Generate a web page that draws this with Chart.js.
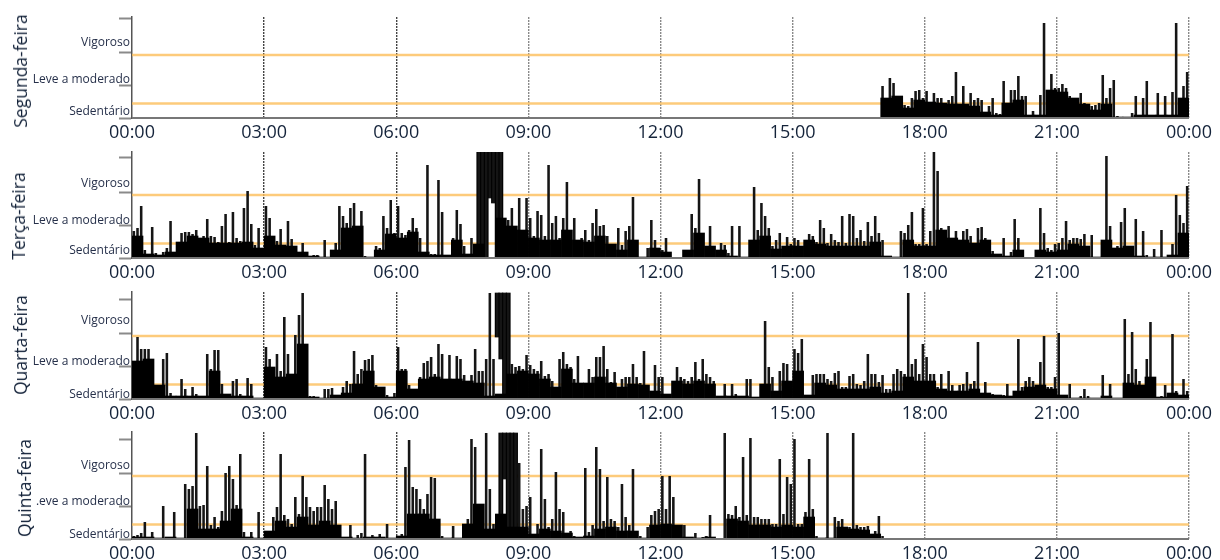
<!DOCTYPE html>
<html>
<head>
<meta charset="utf-8">
<title>Atividade diária</title>
<script src="https://cdn.jsdelivr.net/npm/chart.js@4"></script>
<style>
  html, body { margin: 0; padding: 0; background: #fff; }
  #page { position: relative; width: 1220px; height: 560px; overflow: hidden; }
  #page canvas { position: absolute; left: 0; }
  .day {
    position: absolute; white-space: nowrap; color: #14233a;
    font: 17.5px "Open Sans", sans-serif;
    transform: translate(-50%, -50%) rotate(-90deg);
  }
</style>
</head>
<body>
<div id="page"></div>
<script>
"use strict"

// peaks: one value every 5 minutes, one row per hour, [low, high] where the trace floats
// mass: the solid black part under the peaks, one value every 15 minutes
const segundaStart = 17;
const segundaValues = [
    32, 20, 40, 35, 22, 20, 13, 12, 20, 27, 28, 20,
    27, 16, 25, 20, 20, 15, 18, 22, 46, 14, 32, 14,
    25, 18, 20, 18, 0, 12, 20, 5, 4, 37, 3, 28,
    28, 42, 22, 22, 2, 7, 2, 23, 95, 25, 44, 30,
    30, 34, 30, 22, 20, 18, 25, 15, 2, 12, 13, 15,
    43, 20, 30, 38, 2, 1, 1, 1, 5, 22, 3, 20,
    37, 3, 2, 25, 3, 22, 2, 26, 95, 12, 32, 46
];
const segundaMass = [
    20, 22, 10, 18,
    16, 15, 14, 14,
    12, 6, 3, 15,
    18, 3, 3, 28,
    26, 20, 14, 8,
    14, 1, 1, 3,
    3, 3, 3, 20
];

const tercaStart = 0;
const tercaValues = [
    27, 30, 52, 8, 3, 31, 5, 1, 6, 10, 37, 0,
    10, 25, 26, 26, 24, 28, 20, 22, 39, 22, 21, 16,
    32, 44, 16, 46, 20, 17, 50, 67, 34, 13, 30, 10,
    52, 40, 17, 17, 29, 12, 37, 19, 5, 5, 15, 6,
    2, 3, 3, 1, 18, 0, 0, 15, 52, 42, 35, 50,
    55, 30, 47, 2, 1, 1, 12, 10, 42, 30, 58, 25,
    52, 25, 23, 28, 40, 30, 20, 3, 93, 4, 4, 78,
    46, 3, 2, 20, 48, 34, 12, 4, 20, 6, 106, 106,
    106, [60, 106], [55, 106], 106, 106, 40, 38, 50, 30, 60, 25, 60,
    40, 22, 47, 43, 22, 93, 35, 42, 20, 40, 76, 20,
    40, 18, 20, 28, 18, 35, 49, 32, 33, 22, 2, 1,
    30, 13, 27, 32, 61, 2, 1, 1, 10, 38, 18, 10,
    8, 20, 0, 0, 0, 0, 0, 0, 44, 30, 79, 5,
    10, 32, 3, 1, 15, 13, 5, 32, 1, 32, 0, 0,
    1, 71, 28, 55, 42, 30, 12, 18, 25, 12, 21, 14,
    20, 18, 5, 10, 24, 22, 16, 38, 30, 15, 24, 18,
    16, 42, 15, 44, 42, 20, 28, 17, 36, 22, 42, 25,
    18, 2, 2, 1, 0, 27, 25, 33, 46, 14, 14, 50,
    14, 27, 106, 87, 30, 22, 32, 20, 27, 10, 27, 29,
    22, 3, 30, 31, 20, 15, 7, 4, 3, 20, 2, 6,
    39, 20, 1, 0, 0, 1, 1, 50, 25, 10, 8, 14,
    15, 20, 37, 18, 20, 20, 19, 24, 3, 23, 1, 0,
    3, 102, 32, 10, 12, 36, 50, 5, 2, 39, 2, 27,
    3, 1, 9, 1, 28, 1, 2, 14, 63, 43, 35, 72
];
const tercaMass = [
    22, 4, 3, 6,
    16, 22, 20, 15,
    15, 15, 16, 10,
    22, 13, 12, 6,
    2, 1, 8, 30,
    32, 1, 8, 24,
    20, 26, 6, 3,
    3, 18, 4, 14,
    0, 40, 32, 28,
    20, 18, 18, 28,
    18, 16, 22, 14,
    8, 18, 1, 10,
    6, 0, 8, 25,
    12, 8, 2, 1,
    18, 22, 9, 12,
    12, 18, 14, 12,
    12, 12, 12, 16,
    2, 1, 18, 12,
    12, 28, 20, 18,
    15, 18, 4, 2,
    8, 0, 8, 6,
    8, 14, 12, 1,
    18, 10, 12, 2,
    1, 1, 3, 25
];

const quartaStart = 0;
const quartaValues = [
    32, 62, 50, 50, 50, 40, 14, 14, 40, 46, 6, 2,
    1, 20, 10, 1, 12, 5, 3, 3, 45, 30, 49, 49,
    15, 3, 2, 18, 20, 5, 1, 21, 15, 1, 0, 0,
    52, 40, 30, 45, 28, 82, 45, 25, 64, 84, 106, 4,
    3, 3, 1, 1, 10, 10, 11, 1, 2, 12, 18, 15,
    48, 25, 30, 39, 40, 44, 14, 12, 5, 4, 1, 6,
    52, 30, 30, 14, 10, 8, 22, 36, 38, 42, 25, 55,
    45, 20, 44, 18, 43, 40, 24, 15, 24, 50, 28, 28,
    40, 106, 40, [62, 106], [40, 106], 106, 106, 35, 32, 33, 30, 44,
    34, 30, 28, 38, 23, 25, 18, 12, 40, 47, 35, 32,
    20, 43, 15, 14, 30, 22, 42, 42, 53, 30, 17, 27,
    10, 20, 22, 22, 35, 22, 16, 48, 8, 3, 34, 22,
    22, 1, 0, 0, 32, 22, 20, 18, 22, 37, 20, 40,
    25, 22, 18, 1, 1, 15, 1, 15, 5, 1, 3, 20,
    20, 0, 0, 0, 78, 32, 22, 5, 28, 36, 35, 15,
    50, 46, 60, 1, 1, 24, 25, 25, 25, 20, 18, 26,
    28, 12, 12, 23, 25, 15, 14, 18, 45, 25, 25, 17,
    24, 10, 10, 25, 30, 28, 25, 106, 35, 40, 25, 55,
    42, 25, 25, 12, 25, 8, 28, 14, 8, 14, 15, 27,
    15, 18, 57, 2, 17, 3, 5, 4, 4, 4, 15, 0,
    0, 60, 12, 18, 22, 18, 10, 37, 63, 12, 12, 22,
    66, 2, 1, 15, 1, 1, 3, 10, 3, 0, 0, 0,
    24, 2, 15, 1, 0, 0, 80, 25, 67, 30, 18, 10,
    40, 77, 10, 1, 3, 14, 5, 65, 8, 1, 20, 8
];
const quartaMass = [
    38, 40, 14, 3,
    3, 3, 3, 28,
    5, 3, 3, 1,
    32, 22, 25, 55,
    2, 1, 4, 6,
    15, 28, 12, 2,
    28, 10, 20, 22,
    20, 20, 18, 16,
    3, 5, 25, 28,
    25, 20, 12, 30,
    16, 16, 22, 16,
    12, 15, 14, 8,
    5, 18, 15, 18,
    15, 3, 3, 3,
    2, 15, 8, 18,
    28, 4, 16, 14,
    10, 10, 10, 12,
    6, 8, 22, 18,
    18, 10, 8, 8,
    10, 6, 4, 3,
    8, 12, 14, 10,
    4, 1, 1, 1,
    3, 1, 16, 14,
    22, 2, 6, 4
];

const quintaStart = 0;
const quintaValues = [
    3, 4, 6, 17, 1, 7, 1, 1, 33, 2, 1, 27,
    0, 0, 55, 50, 53, 106, 33, 34, 73, 14, 22, 12,
    28, 66, 73, 60, 34, 85, 7, 1, 7, 1, 27, 1,
    3, 5, 22, 32, 85, 24, 20, 15, 42, 25, 63, 42,
    32, 28, 32, 32, 54, 40, 30, 38, 7, 1, 1, 14,
    1, 4, 6, 85, 1, 4, 1, 5, 1, 15, 1, 1,
    2, 5, 72, 99, 52, 50, 40, 30, 45, 62, 61, 15,
    3, 1, 1, 13, 1, 1, 2, 20, 100, 92, 5, 1,
    106, 50, 15, 25, 106, [60, 106], 106, 106, 106, 76, 30, 33,
    42, 5, 15, 90, 40, 12, 20, 67, 30, 27, 6, 8,
    3, 2, 1, 71, 7, 14, 92, 70, 18, 62, 20, 18,
    12, 55, 22, 14, 70, 5, 3, 1, 12, 24, 28, 30,
    63, 30, 63, 42, 3, 1, 14, 2, 1, 6, 1, 2,
    3, 24, 0, 0, 0, 106, 25, 24, 33, 22, 82, 24,
    101, 22, 22, 20, 20, 20, 15, 15, 80, 25, 62, 55,
    100, 15, 15, 27, 80, 30, 3, 1, 1, 106, 1, 22,
    18, 20, 12, 12, 106, 14, 12, 12, 13, 2, 8, 23,
    3
];
const quintaMass = [
    2, 2, 1, 2,
    1, 30, 10, 10,
    18, 30, 2, 1,
    8, 18, 12, 22,
    14, 18, 14, 2,
    1, 2, 2, 1,
    3, 25, 25, 20,
    1, 1, 15, 35,
    10, 25, 12, 12,
    5, 10, 8, 6,
    2, 3, 10, 12,
    8, 8, 1, 14,
    15, 14, 2, 1,
    2, 0, 20, 18,
    14, 14, 12, 14,
    12, 22, 1, 1,
    12, 10, 9, 5
];

const dayNames = ["Segunda-feira", "Terça-feira", "Quarta-feira", "Quinta-feira"];
const dayValues = [segundaValues, tercaValues, quartaValues, quintaValues];
const dayMass = [segundaMass, tercaMass, quartaMass, quintaMass];
const dayStarts = [segundaStart, tercaStart, quartaStart, quintaStart];
const middleLabels = ["Leve a moderado", "Leve a moderado", "Leve a moderado", ".eve a moderado"];

const axisMarks = [0, 33, 66, 100];
// where the three intensity names sit on each panel: sedentário, leve, vigoroso
const labelLevels = [[6, 38, 75], [7, 37, 74], [4, 37, 78], [4, 37, 73]];
const thresholds = [14.5, 63];
const hourTicks = ["00:00", "03:00", "06:00", "09:00", "12:00", "15:00", "18:00", "21:00", "00:00"];

// layout of the four panels
const plotTops = [17, 152, 292, 432];
const plotHeights = [101, 106, 107, 107];
const titleCentres = [71, 216, 345, 488];
const titleLefts = [20, 18, 20, 24];
const plotLeft = 132;
const plotRight = 1189;
const canvasWidth = 1220;
const topPad = 4;
const xAxisHeight = 28;

const textFont = '"Open Sans", sans-serif';
const page = document.getElementById("page");

const toPoints = (values, startHour, minutes) => values.map((v, i) => ({ x: startHour * 60 + (i + 0.5) * minutes, y: v }));

// runs of peaks that hit the top of the plot read as one solid block
const isFull = (v) => Array.isArray(v) || v >= 100;
const solidRuns = (values, startHour) => toPoints(values, startHour, 5)
    .filter((p, i) => isFull(values[i]) && (isFull(values[i - 1]) || isFull(values[i + 1])));

dayNames.forEach((name, d) => {
    const canvas = document.createElement("canvas");
    canvas.width = canvasWidth;
    canvas.height = topPad + plotHeights[d] + xAxisHeight;
    canvas.style.top = (plotTops[d] - topPad) + "px";
    page.appendChild(canvas);

    const title = document.createElement("div");
    title.className = "day";
    title.textContent = name;
    title.style.left = titleLefts[d] + "px";
    title.style.top = titleCentres[d] + "px";
    page.appendChild(title);

    const levels = labelLevels[d];
    const labelFor = (v) => {
        if (v === levels[0]) return "Sedentário";
        if (v === levels[1]) return middleLabels[d];
        if (v === levels[2]) return "Vigoroso";
        return "";
    };

    new Chart(canvas.getContext("2d"), {
        data: {
            datasets: [
                {
                    type: "bar",
                    data: toPoints(dayMass[d], dayStarts[d], 15),
                    backgroundColor: "#000",
                    barThickness: (plotRight - plotLeft) / 96,
                    grouped: false,
                    order: 1
                },
                {
                    type: "bar",
                    data: toPoints(dayValues[d], dayStarts[d], 5),
                    backgroundColor: "#151515",
                    barPercentage: 0.7,
                    categoryPercentage: 1,
                    grouped: false,
                    order: 1
                },
                {
                    type: "bar",
                    data: solidRuns(dayValues[d], dayStarts[d]),
                    backgroundColor: "#000",
                    barThickness: (plotRight - plotLeft) / 288 + 0.5,
                    grouped: false,
                    order: 1
                },
                ...thresholds.map((t) => ({
                    type: "line",
                    data: [{ x: 0, y: t }, { x: 1440, y: t }],
                    borderColor: "rgba(252, 190, 90, 0.8)",
                    borderWidth: 2.5,
                    pointRadius: 0,
                    order: 2
                }))
            ]
        },
        options: {
            responsive: false,
            animation: false,
            layout: { padding: { top: topPad, right: canvasWidth - plotRight, left: 0, bottom: 0 } },
            plugins: { legend: { display: false }, tooltip: { enabled: false } },
            scales: {
                x: {
                    type: "linear",
                    offset: false,
                    min: 0,
                    max: 1440,
                    afterBuildTicks: (scale) => { scale.ticks = hourTicks.map((_, i) => ({ value: i * 180 })); },
                    afterFit: (scale) => { scale.height = xAxisHeight; },
                    ticks: {
                        autoSkip: false,
                        maxRotation: 0,
                        padding: 4,
                        color: "#14233a",
                        font: { family: textFont, size: 18 },
                        callback: (value, i) => hourTicks[i]
                    },
                    grid: {
                        offset: false,
                        drawTicks: false,
                        color: (ctx) => ctx.tick && ctx.tick.value === 0 ? "transparent" : (ctx.tick && ctx.tick.value > 480 ? "#8a8a8a" : "#444"),
                        lineWidth: 1.4
                    },
                    border: { dash: [2, 1], display: false }
                },
                y: {
                    min: 0,
                    max: plotHeights[d],
                    afterBuildTicks: (scale) => {
                        scale.ticks = [...axisMarks, ...levels].sort((a, b) => a - b).map((v) => ({ value: v }));
                    },
                    afterFit: (scale) => { scale.width = plotLeft; },
                    ticks: {
                        autoSkip: false,
                        padding: -11,
                        color: "#26304a",
                        font: { family: textFont, size: 12 },
                        callback: (value) => labelFor(value)
                    },
                    grid: {
                        drawOnChartArea: false,
                        tickLength: 13,
                        tickColor: "#8a8a8a",
                        tickWidth: (ctx) => ctx.tick && axisMarks.includes(ctx.tick.value) ? 2 : 0
                    },
                    border: { color: "#555", width: 1.5 }
                }
            }
        },
        plugins: [{
            // baseline across the whole panel, the library's border would be dashed with the grid
            id: "baseline",
            afterDatasetsDraw(chart) {
                const { ctx, chartArea } = chart;
                ctx.save();
                ctx.strokeStyle = "#777";
                ctx.lineWidth = 2;
                ctx.beginPath();
                ctx.moveTo(chartArea.left, chartArea.bottom);
                ctx.lineTo(chartArea.right, chartArea.bottom);
                ctx.stroke();
                ctx.restore();
            }
        }]
    });
});
</script>
</body>
</html>
